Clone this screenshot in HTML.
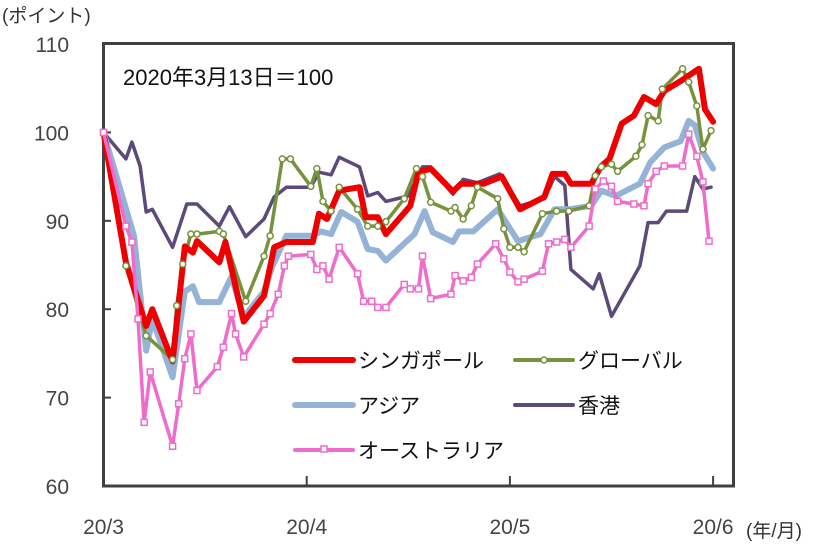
<!DOCTYPE html>
<html><head><meta charset="utf-8">
<style>
html,body{margin:0;padding:0;background:#fff;}
svg{display:block;font-family:"Liberation Sans","Noto Sans CJK JP",sans-serif;}
</style></head>
<body>
<svg id="chart" width="828" height="545" viewBox="0 0 828 545" xmlns="http://www.w3.org/2000/svg">
<text x="2" y="22" font-size="19" fill="#333">(ポイント)</text>
<text x="123" y="85" font-size="22" fill="#111">2020年3月13日＝100</text>
<g id="axes"></g>
<g id="series"></g>
<g id="legend"></g>
<text x="746" y="537" font-size="19" fill="#333">(年/月)</text>
</svg>
<script>
const yTicks = [60, 70, 80, 90, 100, 110];
const xTickPos = [0, 100, 200, 300];
const xTickLabels = ["20/3", "20/4", "20/5", "20/6"];
const seriesNames = ["シンガポール", "グローバル", "アジア", "香港", "オーストラリア"];

const singaporeT = [0,11,21,24,34,40,44,46,57,60,69,79,84,90,103,106,110,116,126,129,135,139,151,155,161,172,176,187,196,205,217,221,227,230,240,245,249,255,261,266,272,276,284,293,296,300];
const singaporeV = [100,85.3,78.1,80,74.1,87.1,86.4,87.7,85.3,87.6,78.6,81.5,87,87.6,87.6,90.8,90.2,93.4,93.8,90.4,90.4,88.5,91.7,95.5,95.9,93.3,94.2,94.2,95,91.3,92.7,95.3,95.3,94.2,94.2,96.2,97,101,101.9,104,103.2,104.7,105.8,107.2,102.6,101.2];

const globalT = [0,11,21,34,36,39,43,46,57,59,70,79,82,88,92,102,105,108,112,116,125,130,135,139,148,154,157,161,171,173,177,181,184,194,197,200,204,207,216,223,229,239,242,245,250,253,262,265,268,273,275,285,288,292,295,299];
const globalV = [100,84.9,77,74.3,80.4,85.1,88.5,88.5,88.8,88.5,80.9,86,88.3,97,97,93.9,95.9,92.2,91.1,93.8,91.3,89.4,89.4,89.9,92.5,95.9,95,92.1,91.1,91.5,90.2,91.7,93.8,92.5,89.1,87,87,86.5,90.8,91.1,91.1,91.7,95.1,96.1,96.4,95.6,97.3,98.6,101.9,101.3,104.9,107.2,105.7,103,98.1,100.2];

const asiaT = [0,15,21,24,34,40,44,47,57,63,69,79,83,90,103,107,112,117,125,130,135,139,153,158,162,172,175,182,194,204,215,222,229,240,245,252,264,269,276,284,288,291,295,300];
const asiaV = [100,88.3,75.3,78.9,72.3,82,82.6,80.8,80.8,83.7,79.1,82,84.8,88.3,88.3,88.8,88.5,91,89.9,86.8,86.6,85.5,88.5,91.1,88.7,87.6,88.8,88.8,91.3,87.7,88.5,91.3,91.3,91.7,93.4,92.8,94.2,96.6,98.3,99,101.3,100.8,97.8,95.9];

const hongkongT = [0,11,14,18,21,24,34,41,46,57,62,70,79,84,90,102,106,112,116,126,130,135,139,150,157,161,172,177,184,195,205,217,222,227,230,241,244,250,264,268,273,277,287,291,295,299];
const hongkongV = [100,97,98.9,96.2,91,91.3,87,91.9,91.9,89.4,91.6,88.2,90.2,92.7,93.8,93.8,95.5,95.2,97.2,96.1,92.8,93.2,92.2,92.8,96.1,96.1,93,94.7,94.3,95.3,91.7,92.5,95,94,84.5,82.3,84,79.2,84.9,89.8,89.8,91.1,91.1,95,93.6,93.8];

const australiaT = [0,11,14,17,20,23,34,37,40,43,46,56,59,63,65,69,79,82,86,89,91,102,105,108,111,116,125,128,132,135,139,148,151,155,157,161,171,173,177,181,184,193,197,200,204,207,216,219,223,227,230,239,242,246,250,253,261,266,268,272,276,285,288,292,295,298];
const australiaV = [100,89.4,87.6,78.9,67.2,72.9,64.5,69.3,74.4,77.2,70.8,73.5,75.7,79.5,77.2,74.6,78.3,79.5,81.7,84.9,86,86.2,84.5,84.9,83.4,87,84,80.9,80.9,80.2,80.2,82.8,82.3,82.3,86,81.2,81.7,83.8,83.2,83.6,85.1,87.4,85.7,84.2,83.1,83.4,84.3,87.4,87.6,87.9,87,89.4,93.6,94.5,93.9,92.2,91.9,91.7,94.2,95.6,96.2,96.2,99.8,97.3,94.4,87.7];

const X0 = 103.5, XPER = 2.032, Y60 = 486, YPX = 8.84;
const xs = t => X0 + t * XPER;
const ys = v => Y60 - (v - 60) * YPX;
const NS = "http://www.w3.org/2000/svg";
function mk(tag, attrs, parent) {
  const e = document.createElementNS(NS, tag);
  for (const k in attrs) e.setAttribute(k, attrs[k]);
  parent.appendChild(e);
  return e;
}
const axes = document.getElementById("axes");
const frame = mk("rect", {x: 103.5, y: 43.5, width: 630, height: 442.5, fill: "none", stroke: "#404040", "stroke-width": 3}, axes);


yTicks.forEach(v => {
  const tl = mk("line", {x1: 103.5, x2: 111, y1: ys(v), y2: ys(v), stroke: "#404040", "stroke-width": 2}, axes);
  
  
  const tx = mk("text", {x: 69, y: ys(v) + 8, "text-anchor": "end", "font-size": 21, fill: "#444"}, axes);
  tx.textContent = v;
  
  
});
xTickPos.forEach((t, i) => {
  if (t > 0) {
    const tl = mk("line", {x1: xs(t), x2: xs(t), y1: 486, y2: 476, stroke: "#404040", "stroke-width": 2}, axes);
    
    
  }
  const tx = mk("text", {x: xs(t), y: 534, "text-anchor": "middle", "font-size": 21, fill: "#444"}, axes);
  tx.textContent = xTickLabels[i];
  
  
});

const ser = document.getElementById("series");
function drawLine(T, V, color, width, name) {
  const pts = T.map((t, i) => xs(t).toFixed(1) + "," + ys(V[i]).toFixed(1)).join(" ");
  const p = mk("polyline", {points: pts, fill: "none", stroke: color, "stroke-width": width, "stroke-linejoin": "round", "stroke-linecap": "round"}, ser);
  
  
  return p;
}
drawLine(hongkongT, hongkongV, "#5b4a7a", 3.5, "hongkong-line");
drawLine(asiaT, asiaV, "#94b3d6", 6, "asia-line");
drawLine(globalT, globalV, "#76923c", 3.5, "global-line");
drawLine(singaporeT, singaporeV, "#ee0000", 6, "singapore-line");
globalT.forEach((t, i) => {
  const c = mk("circle", {cx: xs(t), cy: ys(globalV[i]), r: 3, fill: "#fff", stroke: "#76923c", "stroke-width": 1.5}, ser);
  
  
});
drawLine(australiaT, australiaV, "#ee6ccc", 3.5, "australia-line");
australiaT.forEach((t, i) => {
  const r = mk("rect", {x: xs(t) - 3, y: ys(australiaV[i]) - 3, width: 6, height: 6, fill: "#fff", stroke: "#ee6ccc", "stroke-width": 1.5}, ser);
  
  
});

const leg = document.getElementById("legend");
const legendItems = [
  {x: 295, y: 360, color: "#ee0000", w: 6, mark: null},
  {x: 515, y: 360, color: "#76923c", w: 4, mark: "circle"},
  {x: 295, y: 405, color: "#94b3d6", w: 6, mark: null},
  {x: 515, y: 405, color: "#5b4a7a", w: 4, mark: null},
  {x: 295, y: 450, color: "#ee6ccc", w: 4, mark: "rect"}
];
legendItems.forEach((it, i) => {
  const g = mk("g", {}, leg);
  
  
  mk("line", {x1: it.x, x2: it.x + 58, y1: it.y, y2: it.y, stroke: it.color, "stroke-width": it.w, "stroke-linecap": "round"}, g);
  if (it.mark === "circle") mk("circle", {cx: it.x + 29, cy: it.y, r: 3, fill: "#fff", stroke: it.color, "stroke-width": 1.5}, g);
  if (it.mark === "rect") mk("rect", {x: it.x + 26, y: it.y - 4, width: 6, height: 6, fill: "#fff", stroke: it.color, "stroke-width": 1.5}, g);
  const tx = mk("text", {x: it.x + 63, y: it.y + 8, "font-size": 21, fill: "#111"}, g);
  tx.textContent = seriesNames[i];
});
</script>
</body></html>
